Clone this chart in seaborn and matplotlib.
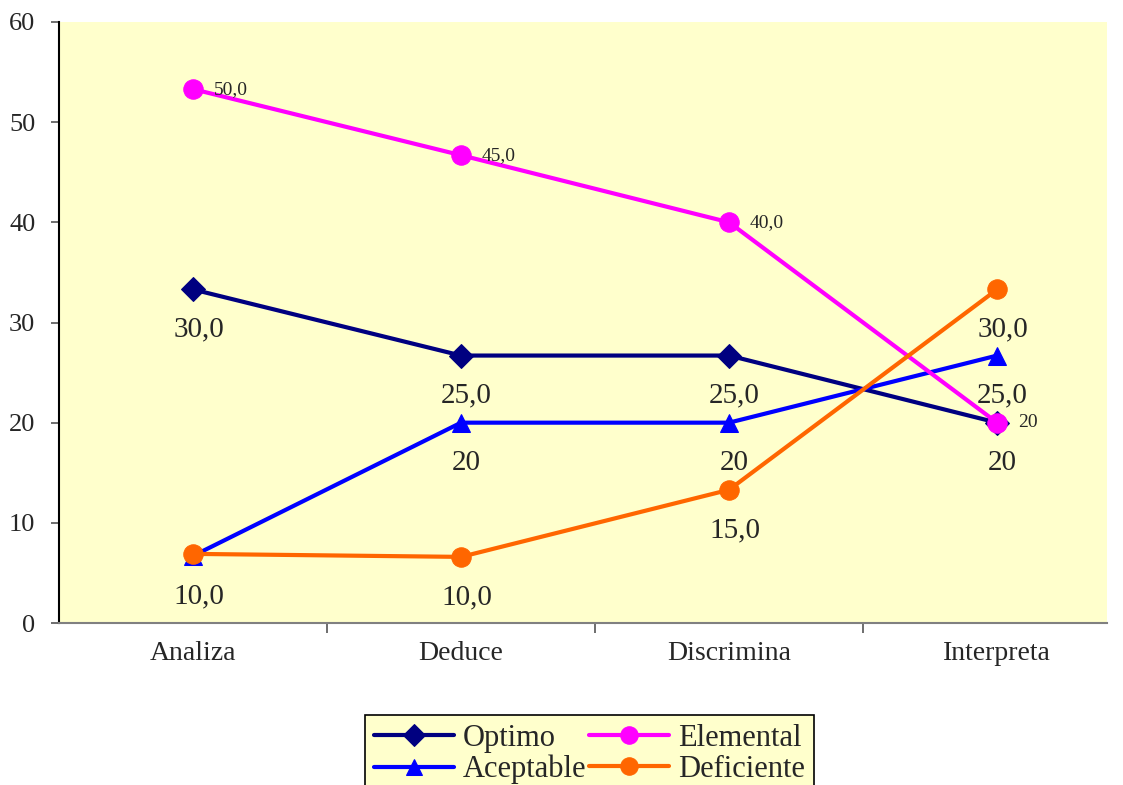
import pandas as pd
import seaborn as sns
import matplotlib.pyplot as plt
from matplotlib.ticker import FixedLocator

# Data
categorias = ['Analiza', 'Deduce', 'Discrimina', 'Interpreta']
optimo = [33.3, 26.7, 26.7, 20.0]
aceptable = [6.7, 20.0, 20.0, 26.7]
elemental = [53.3, 46.7, 40.0, 20.0]
deficiente = [6.9, 6.6, 13.3, 33.3]

# printed labels (as they appear on the chart); Deficiente's first label hides behind Aceptable's
lab_optimo = ['30,0', '25,0', '25,0', '20']
lab_aceptable = ['10,0', '20', '20', '25,0']
lab_elemental = ['50,0', '45,0', '40,0', '20']
lab_deficiente = ['', '10,0', '15,0', '30,0']

series = [
    ('Optimo', optimo, lab_optimo, '#000080', 'D', 12),
    ('Aceptable', aceptable, lab_aceptable, '#0000FF', '^', 13),
    ('Elemental', elemental, lab_elemental, '#FF00FF', 'o', 14),
    ('Deficiente', deficiente, lab_deficiente, '#FF6600', 'o', 14),
]

sns.set_style('white')
plt.rcParams['font.family'] = ['Liberation Serif', 'DejaVu Serif']

fig = plt.figure(figsize=(11.23, 7.85), dpi=100)
ax = fig.add_axes([59 / 1123, 162 / 785, 1048 / 1123, 601 / 785])
ax.set_facecolor('#FFFFCC')

x = list(range(len(categorias)))
for nombre, valores, etiquetas, color, marca, tam in series:
    df = pd.DataFrame({'x': x, 'valor': valores})
    sns.lineplot(data=df, x='x', y='valor', color=color, marker=marca,
                 markersize=tam, markeredgecolor=color, linewidth=3,
                 label=nombre, ax=ax, legend=False)
    for i, (v, t) in enumerate(zip(valores, etiquetas)):
        if not t:
            continue
        if nombre == 'Elemental':
            ax.annotate(t, (i, v), xytext=(15, 0), textcoords='offset points',
                        ha='left', va='center', fontsize=14)
        else:
            ax.annotate(t, (i, v), xytext=(4, -29), textcoords='offset points',
                        ha='center', va='center', fontsize=21)

ax.set_xlim(-0.5, 3.41)
ax.set_ylim(0, 60)
ax.set_yticks(range(0, 61, 10))
ax.set_xticks(x)
ax.set_xticklabels(categorias)
ax.xaxis.set_minor_locator(FixedLocator([0.5, 1.5, 2.5]))
ax.tick_params(axis='x', which='major', length=0, pad=13, labelsize=20)
ax.tick_params(axis='x', which='minor', length=7, width=1.2, color='#555555', direction='out', bottom=True)
ax.tick_params(axis='y', length=6, width=1.2, pad=11, labelsize=19, left=True, direction='out', color='#555555')
ax.set_xlabel('')
ax.set_ylabel('')

for s in ['top', 'right']:
    ax.spines[s].set_visible(False)
ax.spines['left'].set_color('black')
ax.spines['left'].set_linewidth(1.5)
ax.spines['bottom'].set_color('#808080')
ax.spines['bottom'].set_linewidth(1.5)

handles, labels = ax.get_legend_handles_labels()
leg = fig.legend(handles, labels, ncol=2, loc='upper left',
                 bbox_to_anchor=(365 / 1123, 70 / 785), borderaxespad=0,
                 fontsize=22, frameon=True, fancybox=False, edgecolor='black',
                 facecolor='#FFFFCC', framealpha=1, labelspacing=0.05,
                 columnspacing=0.1, handlelength=2.6, handletextpad=0.3,
                 borderpad=0.3, markerscale=0.9)
leg.get_frame().set_linewidth(1.2)

plt.savefig('out.png', dpi=100)
